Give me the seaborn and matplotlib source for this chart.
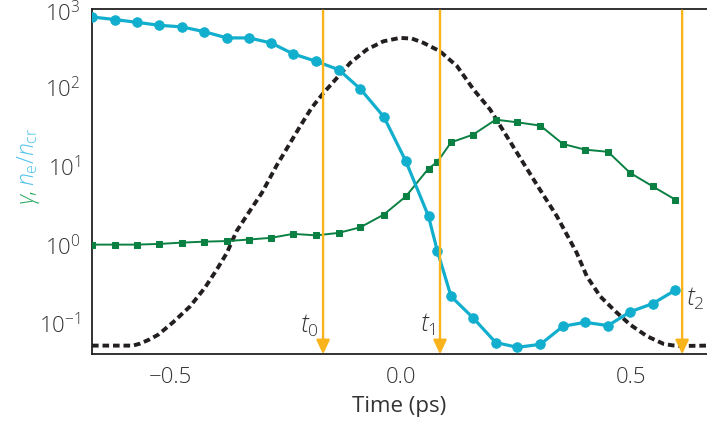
import numpy as np
import pandas as pd
import seaborn as sns
import matplotlib
matplotlib.use("Agg")
import matplotlib.pyplot as plt
import matplotlib.transforms as mtransforms
from matplotlib.ticker import LogLocator, NullFormatter, FixedLocator

# ---------------- data ----------------
t_points = [-0.672, -0.621, -0.574, -0.525, -0.476, -0.428, -0.378, -0.330, -0.282,
            -0.234, -0.184, -0.135, -0.088, -0.037, 0.011, 0.060, 0.079, 0.109,
            0.157, 0.206, 0.253, 0.303, 0.352, 0.400, 0.450, 0.498, 0.547, 0.596]
ne_ncr = [782, 723, 668, 612, 584, 509, 423, 423, 365, 265, 213, 167, 95, 42, 11.4,
          2.29, 0.84, 0.22, 0.117, 0.057, 0.0496, 0.054, 0.0916, 0.103, 0.0935,
          0.14, 0.178, 0.263]
gamma = [1.0, 1.0, 1.0, 1.02, 1.06, 1.09, 1.11, 1.16, 1.22, 1.37, 1.31, 1.41, 1.66,
         2.41, 4.11, 9.25, 11.2, 19.9, 25.0, 38.7, 35.8, 32.5, 19.0, 16.1, 15.1,
         8.15, 5.5, 3.73]

t_pulse = [-0.671, -0.582, -0.567, -0.547, -0.527, -0.495, -0.458, -0.426, -0.400,
           -0.378, -0.357, -0.332, -0.302, -0.270, -0.245, -0.219, -0.194, -0.168,
           -0.139, -0.110, -0.074, -0.038, -0.002, 0.024, 0.049, 0.085, 0.122, 0.158,
           0.194, 0.230, 0.266, 0.302, 0.339, 0.382, 0.404, 0.433, 0.466, 0.498,
           0.535, 0.571, 0.590, 0.607, 0.666]
pulse = [0.0521, 0.0521, 0.0552, 0.0620, 0.0718, 0.103, 0.164, 0.282, 0.481, 0.785,
         1.48, 2.48, 4.54, 10.1, 17.7, 31.8, 54.6, 84.7, 131, 204, 301, 383, 423,
         415, 366, 286, 185, 93.3, 51.9, 23.8, 10.9, 5.0, 2.29, 0.785, 0.395, 0.220,
         0.142, 0.0962, 0.0684, 0.0547, 0.0525, 0.0515, 0.0521]

marker_times = [-0.169, 0.085, 0.611]
marker_labels = [r"$t_0$", r"$t_1$", r"$t_2$"]

xtick_vals = [-0.5, 0.0, 0.5]
xtick_labels = ["\u22120.5", "0.0", "0.5"]
xminor_vals = [-0.25, 0.25]
ytick_vals = [0.1, 1, 10, 100, 1000]
ytick_labels = [r"$10^{-1}$", r"$10^{0}$", r"$10^{1}$", r"$10^{2}$", r"$10^{3}$"]

# ---------------- style ----------------
sns.set_theme(style="white")
plt.rcParams["font.family"] = ["Open Sans", "DejaVu Sans"]
plt.rcParams["font.weight"] = "light"
plt.rcParams["mathtext.fontset"] = "custom"
plt.rcParams["mathtext.rm"] = "Open Sans:light"
plt.rcParams["mathtext.it"] = "Open Sans:italic:light"
plt.rcParams["mathtext.bf"] = "Open Sans:bold"

CYAN = "#12aecd"
GREEN = "#0a8043"
ORANGE = "#f8b41a"
DARK = "#231f20"
TXT = "#333333"
LBLUE = "#4cc3ea"
LGREEN = "#20a85a"

W, H = 707, 424
fig = plt.figure(figsize=(W / 100, H / 100), dpi=100)
ax = fig.add_axes([92 / W, (H - 354.3) / H, (W - 92) / W, (354.3 - 8.5) / H])

df_pulse = pd.DataFrame({"t": t_pulse, "v": pulse})
df_ne = pd.DataFrame({"t": t_points, "v": ne_ncr})
df_g = pd.DataFrame({"t": t_points, "v": gamma})

sns.lineplot(data=df_pulse, x="t", y="v", ax=ax, color=DARK, lw=2.8,
             linestyle=(0, (1.7, 1.0)), estimator=None, sort=False, zorder=2)
sns.lineplot(data=df_g, x="t", y="v", ax=ax, color=GREEN, lw=1.4, marker="s",
             markersize=5.0, markeredgecolor=GREEN, estimator=None, sort=False, zorder=3)
sns.lineplot(data=df_ne, x="t", y="v", ax=ax, color=CYAN, lw=2.3, marker="o",
             markersize=6.8, markeredgecolor=CYAN, estimator=None, sort=False, zorder=3)

ax.set_yscale("log")
ax.set_xlim(-0.671, 0.665)
ax.set_ylim(0.0404, 1000)

y_top = 940
for t in marker_times:
    ax.annotate("", xy=(t, 0.0404), xytext=(t, y_top),
                arrowprops=dict(arrowstyle="-|>,head_length=0.85,head_width=0.4",
                                color=ORANGE, lw=1.7, shrinkA=0, shrinkB=0,
                                mutation_scale=10),
                zorder=4)

ax.text(marker_times[0] - 0.010, 0.094, marker_labels[0], ha="right", va="center",
        fontsize=18, color=TXT)
ax.text(marker_times[1] - 0.010, 0.096, marker_labels[1], ha="right", va="center",
        fontsize=18, color=TXT)
ax.text(marker_times[2] + 0.008, 0.205, marker_labels[2], ha="left", va="center",
        fontsize=18, color=TXT)

# ticks
ax.set_xticks(xtick_vals)
ax.set_xticklabels(xtick_labels)
ax.xaxis.set_minor_locator(FixedLocator(xminor_vals))
ax.set_yticks(ytick_vals)
ax.set_yticklabels(ytick_labels)
ax.yaxis.set_minor_locator(LogLocator(base=10, subs=np.arange(2, 10)))
ax.yaxis.set_minor_formatter(NullFormatter())
ax.tick_params(axis="both", which="major", direction="in", length=7, width=1.0,
               color="#222222", labelsize=16, labelcolor=TXT)
ax.tick_params(axis="both", which="minor", direction="in", length=4, width=1.0,
               color="#222222")
ax.tick_params(axis="x", which="minor", length=6.5)
ax.tick_params(axis="y", which="major", pad=8)
ax.tick_params(axis="x", which="major", pad=9)
ax.tick_params(top=False, right=False, which="both")

# nudge the top y label down slightly so it stays inside the canvas
top_lab = ax.get_yticklabels()[-1]
top_lab.set_transform(top_lab.get_transform() +
                      mtransforms.ScaledTranslation(0, -3 / 100, fig.dpi_scale_trans))

for s in ["left", "bottom", "top"]:
    ax.spines[s].set_visible(True)
    ax.spines[s].set_color("#222222")
    ax.spines[s].set_linewidth(1.3)
ax.spines["right"].set_visible(False)

ax.set_xlabel("Time (ps)", fontsize=16, color=TXT, labelpad=6)
ax.set_ylabel("")

# two-coloured y label
t1 = fig.text(34 / W, (H - 205) / H, r"$\gamma$,", rotation=90, rotation_mode="anchor",
              ha="left", va="baseline", fontsize=16.5, color=LGREEN)
fig.canvas.draw()
bb = t1.get_window_extent()
fig.text(34 / W, (bb.y1 + 4) / H, r"$n_{\mathrm{e}}/n_{\mathrm{cr}}$", rotation=90,
         rotation_mode="anchor", ha="left", va="baseline", fontsize=16.5, color=LBLUE)

fig.savefig("out.png", dpi=100)
